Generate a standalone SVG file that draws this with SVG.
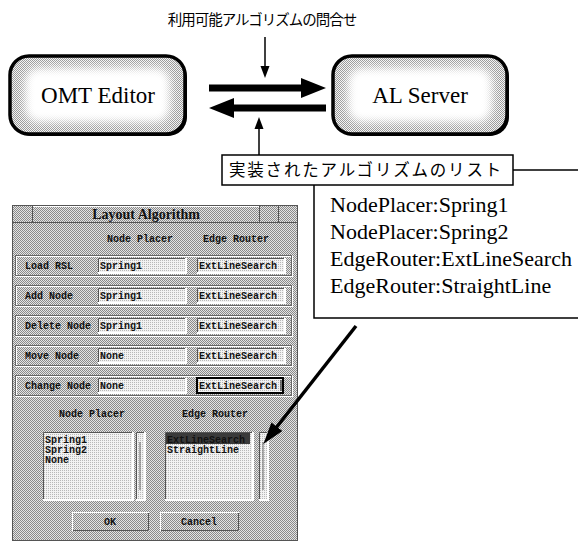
<svg xmlns="http://www.w3.org/2000/svg" width="578" height="542" viewBox="0 0 578 542">
  <defs>
    <!-- 50% halftone dithers -->
    <pattern id="ditherLight" width="2" height="2" patternUnits="userSpaceOnUse">
      <rect width="2" height="2" fill="#f4f4f4"/>
      <rect width="1" height="1" fill="#9a9a9a"/>
      <rect x="1" y="1" width="1" height="1" fill="#9a9a9a"/>
    </pattern>
    <pattern id="ditherGray" width="2" height="2" patternUnits="userSpaceOnUse">
      <rect width="2" height="2" fill="#e4e4e4"/>
      <rect width="1" height="1" fill="#8a8a8a"/>
      <rect x="1" y="1" width="1" height="1" fill="#8a8a8a"/>
    </pattern>
    <pattern id="ditherField" width="2" height="2" patternUnits="userSpaceOnUse">
      <rect width="2" height="2" fill="#f2f2f2"/>
      <rect width="1" height="1" fill="#b8b8b8"/>
    </pattern>
    <filter id="soft" x="-20%" y="-20%" width="140%" height="140%">
      <feGaussianBlur stdDeviation="4"/>
    </filter>
    <marker id="bigHead" markerUnits="userSpaceOnUse" markerWidth="26" markerHeight="22" refX="12" refY="11" orient="auto">
      <path d="M0,1 L25,11 L0,21 z" fill="#000"/>
    </marker>
    <marker id="smallHead" markerUnits="userSpaceOnUse" markerWidth="12" markerHeight="10" refX="4" refY="5" orient="auto">
      <path d="M0,0.5 L12,5 L0,9.5 z" fill="#000"/>
    </marker>
    <marker id="diagHead" markerUnits="userSpaceOnUse" markerWidth="22" markerHeight="14" refX="8" refY="7" orient="auto">
      <path d="M0,0 L22,7 L0,14 z" fill="#000"/>
    </marker>
    <style>
      .node-frame { fill: url(#ditherLight); stroke: #000; stroke-width: 3.5; }
      .node-shadow { fill: #000; }
      .node-core { fill: #fff; filter: url(#soft); }
      .node-text { font-family: "Liberation Serif", "Times New Roman", serif; font-size: 23px; fill: #000; text-anchor: middle; }
      .jp { font-family: "Noto Sans CJK JP", "Noto Sans", sans-serif; fill: #000; }
      .list-text { font-family: "Liberation Serif", "Times New Roman", serif; font-size: 22px; fill: #000; }
      .rule { stroke: #000; stroke-width: 1.5; fill: none; }
      .thick { stroke: #000; stroke-width: 7; fill: none; }
      .thin { stroke: #000; stroke-width: 1.5; fill: none; }
      .win { fill: url(#ditherGray); stroke: #555; stroke-width: 1; }
      .ui { font-family: "Liberation Mono", "DejaVu Sans Mono", monospace; font-size: 10px; fill: #111; font-weight: bold; }
      .ui-c { text-anchor: middle; }
      .groove { fill: none; stroke: #666; stroke-width: 1; }
      .groove-hi { fill: none; stroke: #fff; stroke-width: 1; }
      .field { fill: url(#ditherField); }
      .field-lo { stroke: #555; stroke-width: 1; fill: none; }
      .field-hi { stroke: #fff; stroke-width: 2; fill: none; }
    </style>
  </defs>

  <!-- query label -->
  <g id="query-label">
    <text class="jp" x="262" y="25" font-size="14.5" letter-spacing="-1" text-anchor="middle">利用可能アルゴリズムの問合せ</text>
  </g>

  <!-- OMT Editor node -->
  <g id="omt-editor">
    <rect class="node-shadow" x="12" y="58" width="175" height="78" rx="19"/>
    <rect class="node-frame" x="10" y="56" width="175" height="78" rx="19"/>
    <rect class="node-core" x="25" y="68" width="145" height="54" rx="14"/>
    <text class="node-text" x="98" y="103">OMT Editor</text>
  </g>

  <!-- AL Server node -->
  <g id="al-server">
    <rect class="node-shadow" x="335" y="58" width="174" height="78" rx="19"/>
    <rect class="node-frame" x="333" y="56" width="174" height="78" rx="19"/>
    <rect class="node-core" x="348" y="68" width="144" height="54" rx="14"/>
    <text class="node-text" x="420" y="103">AL Server</text>
  </g>

  <!-- reply label -->
  <g id="impl-label">
    <rect x="222" y="155" width="291" height="30" fill="#fff" stroke="#000" stroke-width="1.5"/>
    <text class="jp" x="229" y="176" font-size="16.5" letter-spacing="1.8">実装されたアルゴリズムのリスト</text>
  </g>

  <!-- algorithm list -->
  <g id="algo-list">
    <path class="rule" d="M513,170 H578"/>
    <path class="rule" d="M314,185 V318 H578"/>
    <text class="list-text" x="330" y="212">NodePlacer:Spring1</text>
    <text class="list-text" x="330" y="239">NodePlacer:Spring2</text>
    <text class="list-text" x="330" y="266">EdgeRouter:ExtLineSearch</text>
    <text class="list-text" x="330" y="293">EdgeRouter:StraightLine</text>
  </g>

  <!-- Layout Algorithm dialog -->
  <g id="layout-dialog">
    <rect class="win" x="12.5" y="205.5" width="285" height="335"/>
    <!-- title bar -->
    <rect x="12.5" y="205.5" width="285" height="17" fill="none" stroke="#555"/>
    <line x1="32.5" y1="205.5" x2="32.5" y2="222.5" stroke="#555"/>
    <line x1="259.5" y1="205.5" x2="259.5" y2="222.5" stroke="#555"/>
    <line x1="278.5" y1="205.5" x2="278.5" y2="222.5" stroke="#555"/>
    <line x1="33" y1="206.5" x2="259" y2="206.5" stroke="#fff"/>
    <text x="146" y="219" text-anchor="middle" font-family="Liberation Serif, serif" font-weight="bold" font-size="14" fill="#111">Layout Algorithm</text>

    <text class="ui ui-c" x="140" y="242">Node Placer</text>
    <text class="ui ui-c" x="236" y="242">Edge Router</text>

    <!-- Load RSL -->
    <rect class="groove-hi" x="16.5" y="256.5" width="276" height="20"/>
    <rect class="groove" x="15.5" y="255.5" width="276" height="20"/>
    <text class="ui" x="25" y="269">Load RSL</text>
    <rect class="field" x="98" y="258" width="87" height="15"/>
    <path class="field-lo" d="M98.5,273 V258.5 H185"/>
    <path class="field-hi" d="M98,273 H186 V258"/>
    <text class="ui" x="100" y="269">Spring1</text>
    <rect class="field" x="197" y="258" width="87" height="15"/>
    <path class="field-lo" d="M197.5,273 V258.5 H284"/>
    <path class="field-hi" d="M197,273 H285 V258"/>
    <text class="ui" x="199" y="269">ExtLineSearch</text>

    <!-- Add Node -->
    <rect class="groove-hi" x="16.5" y="286.5" width="276" height="20"/>
    <rect class="groove" x="15.5" y="285.5" width="276" height="20"/>
    <text class="ui" x="25" y="299">Add Node</text>
    <rect class="field" x="98" y="288" width="87" height="15"/>
    <path class="field-lo" d="M98.5,303 V288.5 H185"/>
    <path class="field-hi" d="M98,303 H186 V288"/>
    <text class="ui" x="100" y="299">Spring1</text>
    <rect class="field" x="197" y="288" width="87" height="15"/>
    <path class="field-lo" d="M197.5,303 V288.5 H284"/>
    <path class="field-hi" d="M197,303 H285 V288"/>
    <text class="ui" x="199" y="299">ExtLineSearch</text>

    <!-- Delete Node -->
    <rect class="groove-hi" x="16.5" y="316.5" width="276" height="20"/>
    <rect class="groove" x="15.5" y="315.5" width="276" height="20"/>
    <text class="ui" x="25" y="329">Delete Node</text>
    <rect class="field" x="98" y="318" width="87" height="15"/>
    <path class="field-lo" d="M98.5,333 V318.5 H185"/>
    <path class="field-hi" d="M98,333 H186 V318"/>
    <text class="ui" x="100" y="329">Spring1</text>
    <rect class="field" x="197" y="318" width="87" height="15"/>
    <path class="field-lo" d="M197.5,333 V318.5 H284"/>
    <path class="field-hi" d="M197,333 H285 V318"/>
    <text class="ui" x="199" y="329">ExtLineSearch</text>

    <!-- Move Node -->
    <rect class="groove-hi" x="16.5" y="346.5" width="276" height="20"/>
    <rect class="groove" x="15.5" y="345.5" width="276" height="20"/>
    <text class="ui" x="25" y="359">Move Node</text>
    <rect class="field" x="98" y="348" width="87" height="15"/>
    <path class="field-lo" d="M98.5,363 V348.5 H185"/>
    <path class="field-hi" d="M98,363 H186 V348"/>
    <text class="ui" x="100" y="359">None</text>
    <rect class="field" x="197" y="348" width="87" height="15"/>
    <path class="field-lo" d="M197.5,363 V348.5 H284"/>
    <path class="field-hi" d="M197,363 H285 V348"/>
    <text class="ui" x="199" y="359">ExtLineSearch</text>

    <!-- Change Node -->
    <rect class="groove-hi" x="16.5" y="376.5" width="276" height="20"/>
    <rect class="groove" x="15.5" y="375.5" width="276" height="20"/>
    <text class="ui" x="25" y="389">Change Node</text>
    <rect class="field" x="98" y="378" width="87" height="15"/>
    <path class="field-lo" d="M98.5,393 V378.5 H185"/>
    <path class="field-hi" d="M98,393 H186 V378"/>
    <text class="ui" x="100" y="389">None</text>
    <rect class="field" x="197" y="378" width="86" height="15" stroke="#000" stroke-width="2"/>
    <text class="ui" x="199" y="389">ExtLineSearch</text>
    <line x1="281" y1="380" x2="281" y2="391" stroke="#000" stroke-width="1"/>

    <!-- list headers -->
    <text class="ui ui-c" x="92" y="417">Node Placer</text>
    <text class="ui ui-c" x="215" y="417">Edge Router</text>

    <!-- Node Placer list -->
    <rect class="field" x="43" y="432" width="89" height="68"/>
    <path class="field-lo" d="M43.5,500 V432.5 H132"/>
    <path class="field-hi" d="M43,500 H133 V432"/>
    <text class="ui" x="45" y="443">Spring1</text>
    <text class="ui" x="45" y="453">Spring2</text>
    <text class="ui" x="45" y="463">None</text>
    <rect class="field" x="136" y="432" width="8" height="68"/>
    <path class="field-lo" d="M136.5,500 V432.5 H144"/>
    <path class="field-hi" d="M136,500 H145 V432"/>
    <line x1="140" y1="442" x2="140" y2="490" stroke="#666"/>

    <!-- Edge Router list -->
    <rect class="field" x="165" y="432" width="87" height="68"/>
    <path class="field-lo" d="M165.5,500 V432.5 H252"/>
    <path class="field-hi" d="M165,500 H253 V432"/>
    <rect x="166" y="433" width="84" height="11" fill="#3a3a3a"/>
    <text class="ui" x="167" y="443" fill="#bdbdbd">ExtLineSearch</text>
    <text class="ui" x="167" y="453">StraightLine</text>
    <rect class="field" x="259" y="432" width="8" height="68"/>
    <path class="field-lo" d="M259.5,500 V432.5 H267"/>
    <path class="field-hi" d="M259,500 H268 V432"/>
    <line x1="263" y1="442" x2="263" y2="490" stroke="#666"/>

    <!-- buttons -->
    <rect x="72.5" y="512.5" width="76" height="18" fill="url(#ditherGray)" stroke="#fff"/>
    <path d="M148.5,513 V530.5 H73" stroke="#555" fill="none"/>
    <text class="ui ui-c" x="110" y="525">OK</text>
    <rect x="160.5" y="512.5" width="78" height="18" fill="url(#ditherGray)" stroke="#fff"/>
    <path d="M238.5,513 V530.5 H161" stroke="#555" fill="none"/>
    <text class="ui ui-c" x="199" y="525">Cancel</text>
  </g>

  <!-- connectors -->
  <g id="connectors">
    <path class="thin" d="M265,37 V70" marker-end="url(#smallHead)"/>
    <path class="thick" d="M209,88 H313" marker-end="url(#bigHead)"/>
    <path class="thick" d="M326,108 H222" marker-end="url(#bigHead)"/>
    <path class="thin" d="M259,155 V125" marker-end="url(#smallHead)"/>
    <path d="M356,326 L272,433" stroke="#000" stroke-width="3.5" fill="none" marker-end="url(#diagHead)"/>
  </g>
</svg>
